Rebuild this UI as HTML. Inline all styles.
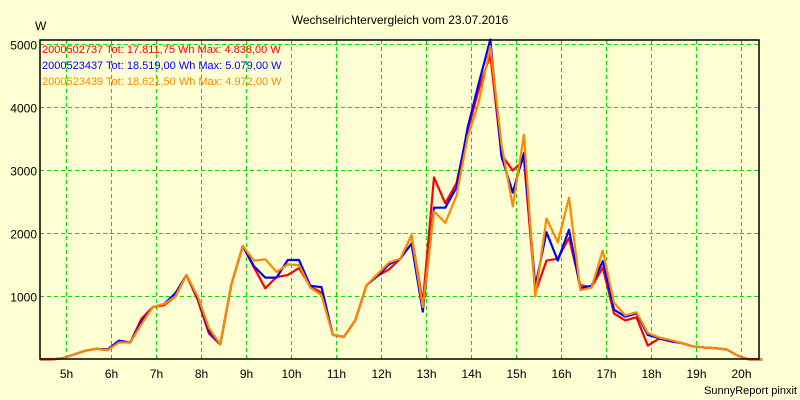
<!DOCTYPE html>
<html><head><meta charset="utf-8"><style>
body{margin:0;background:#ffffd4;}
svg{display:block;font-family:"Liberation Sans",sans-serif;}
</style></head><body>
<svg id="chart" width="800" height="400" viewBox="0 0 800 400">
<rect x="0" y="0" width="800" height="400" fill="#ffffd4"/>
<text x="400" y="24" text-anchor="middle" font-size="12" fill="#000">Wechselrichtervergleich vom 23.07.2016</text>
<text x="35" y="30" font-size="12" fill="#000">W</text>
<g id="grid"></g>
<g id="series"></g>
<rect x="40" y="40" width="719" height="319" fill="none" stroke="#000" stroke-width="1.5"/>
<g id="axes"></g>
<g font-size="11">
<text x="42" y="53" fill="#ff0000">2000502737 Tot: 17.811,75 Wh Max: 4.838,00 W</text>
<text x="42" y="69" fill="#0000ff">2000523437 Tot: 18.519,00 Wh Max: 5.079,00 W</text>
<text x="42" y="85" fill="#ff8800">2000523439 Tot: 18.621,50 Wh Max: 4.972,00 W</text>
</g>
<text x="797" y="394" text-anchor="end" font-size="11" fill="#000">SunnyReport pinxit</text>
</svg>
<script>
const startHour = 4 + 25/60;
const stepHours = 0.25;
const redValues = [0,0,20,80,140,170,150,280,270,650,830,860,1000,1340,940,410,240,1200,1800,1460,1130,1310,1340,1450,1160,1060,390,360,620,1180,1330,1430,1600,1970,900,2890,2480,2800,3640,4300,4838,3250,3000,3170,1060,1570,1600,1930,1180,1150,1460,730,620,670,220,330,290,260,210,190,180,160,60,0,0];
const blueValues = [0,0,20,80,140,170,160,300,270,600,830,880,1050,1340,980,450,240,1200,1800,1480,1300,1300,1580,1580,1170,1150,390,360,620,1180,1330,1510,1600,1840,760,2410,2410,2730,3690,4400,5079,3220,2650,3280,1160,2020,1570,2060,1130,1170,1560,790,680,730,390,340,290,260,210,190,180,160,60,0,0];
const orangeValues = [0,0,20,80,140,170,150,270,270,560,830,880,1000,1340,1000,500,240,1200,1800,1570,1590,1390,1510,1500,1140,1020,390,360,620,1180,1360,1540,1600,1970,830,2350,2170,2600,3540,4100,4972,3410,2430,3570,1000,2240,1860,2570,1100,1140,1730,900,700,750,420,350,310,260,210,190,180,160,60,0,0];
const yTicks = [1000,2000,3000,4000,5000];
const xTicks = [5,6,7,8,9,10,11,12,13,14,15,16,17,18,19,20];
const xTickLabels = ["5h","6h","7h","8h","9h","10h","11h","12h","13h","14h","15h","16h","17h","18h","19h","20h"];

const NS = "http://www.w3.org/2000/svg";
function xScale(h){ return 66.5 + (h - 5) * 45; }
function yScale(v){ return 359.5 - v * 0.063; }

const grid = document.getElementById('grid');
const axes = document.getElementById('axes');
yTicks.forEach(function(v){
  const l = document.createElementNS(NS,'line');
  
  
  l.setAttribute('x1',40); l.setAttribute('x2',759);
  l.setAttribute('y1',yScale(v)); l.setAttribute('y2',yScale(v));
  l.setAttribute('stroke','#00e000'); l.setAttribute('stroke-dasharray','4,3');
  grid.appendChild(l);
  const t = document.createElementNS(NS,'text');
  
  
  t.setAttribute('x',37); t.setAttribute('y',yScale(v)+5);
  t.setAttribute('text-anchor','end'); t.setAttribute('font-size','12');
  t.textContent = String(v);
  axes.appendChild(t);
});
xTicks.forEach(function(h,i){
  const l = document.createElementNS(NS,'line');
  
  
  l.setAttribute('x1',xScale(h)); l.setAttribute('x2',xScale(h));
  l.setAttribute('y1',40); l.setAttribute('y2',359);
  l.setAttribute('stroke','#00e000'); l.setAttribute('stroke-dasharray','4,3');
  grid.appendChild(l);
  const t = document.createElementNS(NS,'text');
  
  
  t.setAttribute('x',xScale(h)); t.setAttribute('y',378);
  t.setAttribute('text-anchor','middle'); t.setAttribute('font-size','12');
  t.textContent = xTickLabels[i];
  axes.appendChild(t);
});
const seriesG = document.getElementById('series');
function drawSeries(vals, color, name){
  const pts = vals.map(function(v,i){ return xScale(startHour + i*stepHours).toFixed(1)+','+yScale(v).toFixed(1); });
  pts.push(xScale(20.46).toFixed(1)+','+yScale(0).toFixed(1));
  const p = document.createElementNS(NS,'polyline');
  
  
  p.setAttribute('points', pts.join(' '));
  p.setAttribute('fill','none'); p.setAttribute('stroke',color);
  p.setAttribute('stroke-width','2.2'); p.setAttribute('stroke-linejoin','round');
  seriesG.appendChild(p);
}
drawSeries(redValues,'#ff0000','series-line-2000502737');
drawSeries(blueValues,'#0000ff','series-line-2000523437');
drawSeries(orangeValues,'#ff8800','series-line-2000523439');
</script>
</body></html>
